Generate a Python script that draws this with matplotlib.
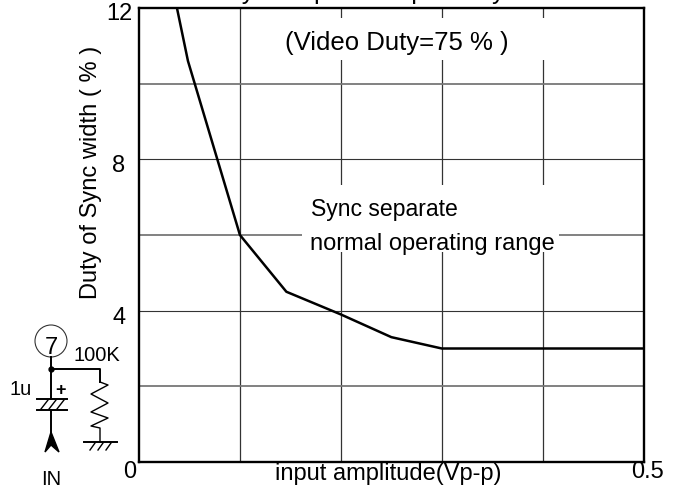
import numpy as np
import matplotlib as mpl
mpl.use('Agg')
import matplotlib.pyplot as plt

plt.rcParams['font.family'] = ['Liberation Sans', 'DejaVu Sans']

# curve
amplitude = [0.0376, 0.0485, 0.1, 0.146, 0.2, 0.25, 0.3, 0.5]
duty = [12.0, 10.6, 6.0, 4.5, 3.9, 3.3, 3.0, 3.0]

x_grid = [0.1, 0.2, 0.3, 0.4]
y_grid_gray = [2, 6, 10]
y_grid_dark = [4, 8]
y_ticks = [4, 8, 12]

W, H = 680, 486
L, R, T, B = 139, 643.7, 8, 462

fig = plt.figure(figsize=(W/100, H/100), dpi=100)
h = fig.add_axes([L/W, 1-B/H, (R-L)/W, (B-T)/H])
h.set_xlim(0, 0.5)
h.set_ylim(0, 12)
h.set_xticks([])
h.set_yticks([])
for axis in ['top', 'bottom', 'left', 'right']:
    h.spines[axis].set_linewidth(1.7)

for x in x_grid:
    h.axvline(x, color='#333333', linewidth=0.9, zorder=1)
for y in y_grid_gray:
    h.axhline(y, color='#777777', linewidth=1.3, zorder=1)
for y in y_grid_dark:
    h.axhline(y, color='#333333', linewidth=0.8, zorder=1)

h.plot(amplitude, duty, color='black', linewidth=1.8, zorder=3)

fs = 17

# pixel overlay for texts and schematic
o = fig.add_axes([0, 0, 1, 1])
o.set_xlim(0, W)
o.set_ylim(H, 0)
o.axis('off')
o.patch.set_alpha(0)

# white boxes behind the labels cut the grid
o.add_patch(plt.Rectangle((250, 18), 310, 42, facecolor='white', edgecolor='none'))
o.add_patch(plt.Rectangle((302, 185), 257, 67, facecolor='white', edgecolor='none'))
o.text(285, 43, '(Video Duty=75 % )', fontsize=18.5, ha='left', va='center')
o.text(311, 209, 'Sync separate', fontsize=16.6, ha='left', va='center')
o.text(310, 244, 'normal operating range', fontsize=fs, ha='left', va='center')
o.text(225, -1, 'Sync separate input Duty control', fontsize=18, ha='left', va='baseline')

for v in y_ticks:
    y = T + (12-v)/12*(B-T)
    o.text(132 if v == 12 else 125.5, 14 if v == 12 else y+7, str(v), fontsize=fs, ha='right', va='center')
o.text(130, 472, '0', fontsize=fs, ha='center', va='center')
o.text(647.5, 472, '0.5', fontsize=fs, ha='center', va='center')
o.text(388, 474, 'input amplitude(Vp-p)', fontsize=fs, ha='center', va='center')
o.text(90.5, 172, 'Duty of Sync width ( % )', fontsize=fs, rotation=90, ha='center', va='center')

# schematic
lw = 1.4
o.add_patch(plt.Circle((51, 341), 16, facecolor='none', edgecolor='#333333', linewidth=0.8))
o.text(51, 348, '7', fontsize=fs, ha='center', va='center')
o.text(97, 355, '100K', fontsize=14.5, ha='center', va='center')
o.text(21, 389, '1u', fontsize=14.5, ha='center', va='center')
o.text(60, 390, '+', fontsize=13, ha='center', va='center', fontweight='bold')
o.text(51, 479, 'IN', fontsize=14.5, ha='center', va='center')
o.plot([51, 51], [357, 399], color='k', linewidth=lw)
o.plot([51, 51], [410, 445], color='k', linewidth=lw)
o.plot([51], [369], 'o', color='k', markersize=3.5)
o.plot([51, 100, 100], [369, 369, 382], color='k', linewidth=lw)
o.plot([37, 67], [399, 399], color='k', linewidth=lw)
o.plot([37, 67], [410, 410], color='k', linewidth=lw)
for x in [41, 49, 57]:
    o.plot([x, x+7], [409, 400], color='k', linewidth=1.0)
o.plot([100, 108, 91, 108, 91, 108, 91, 100, 100],
       [382, 385, 394, 403, 412, 418, 426, 428, 442], color='k', linewidth=1.0)
o.plot([84, 117], [442, 442], color='k', linewidth=lw)
for x in [90, 98, 106]:
    o.plot([x, x+5], [450, 443], color='k', linewidth=1.0)
o.fill([51, 59, 51, 45, 51], [432, 452, 445, 452, 432], color='k')

fig.savefig('out.png', dpi=100)
